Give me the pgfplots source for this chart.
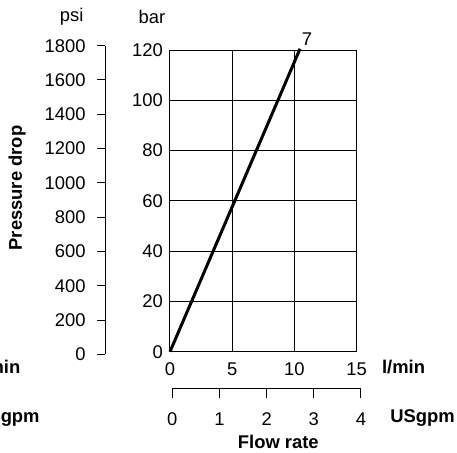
\documentclass[border=0pt]{standalone}
\usepackage{fontspec}
\setmainfont{Liberation Sans}
\usepackage{pgfplots}
\pgfplotsset{compat=1.18}
\newcommand\fs{\fontsize{9.2}{11}\selectfont}
\begin{document}
\begin{tikzpicture}[font=\fs]
\useasboundingbox (0,0) rectangle (228.5pt,226pt);
\begin{scope}
\clip (0,0) rectangle (228.5pt,226pt);
% main bar axis
\begin{axis}[at={(85pt,50.15pt)}, anchor=south west, scale only axis,
  width=93.35pt, height=150.85pt,
  xmin=0, xmax=15, ymin=0, ymax=120,
  xtick={0,5,10,15}, ytick={0,20,...,120},
  grid=major, major grid style={black, line width=0.5pt},
  axis line style={black, line width=0.5pt},
  major tick length=0pt, tick style={draw=none},
  /pgf/number format/assume math mode=true,
  ticklabel style={font=\fs},
  xticklabel style={yshift=-2pt},
  clip=false]
\addplot[black, line width=1.5pt] coordinates {(0,0) (10.45,120.5)};
\node[font=\fs] at (axis cs:11,124.4) {7};
\end{axis}
% psi axis
\begin{axis}[at={(52.65pt,48.85pt)}, anchor=south west, scale only axis,
  width=1pt, height=154.3pt,
  xmin=0, xmax=1, ymin=0, ymax=1800,
  ytick={0,200,...,1800},
  hide x axis, axis y line*=left, tick align=outside,
  major tick length=4pt,
  axis line style={black, line width=0.5pt}, tick style={black, line width=0.5pt},
  /pgf/number format/assume math mode=true,
  /pgf/number format/set thousands separator={},
  ticklabel style={font=\fs},
  yticklabel style={xshift=-2.3pt}]
\addplot[draw=none] coordinates {(0,0)};
\end{axis}
% USgpm axis
\begin{axis}[at={(86.15pt,31.85pt)}, anchor=south west, scale only axis,
  width=94.35pt, height=1pt,
  xmin=0, xmax=4, ymin=0, ymax=1,
  xtick={0,1,2,3,4},
  hide y axis, axis x line*=bottom, tick align=outside,
  major tick length=5pt,
  axis line style={black, line width=0.5pt}, tick style={black, line width=0.5pt},
  /pgf/number format/assume math mode=true,
  xticklabel style={font=\fs, yshift=-3.5pt}]
\addplot[draw=none] coordinates {(0,0)};
\end{axis}
\node at (35.85pt,217.5pt) {psi};
\node at (76pt,217.5pt) {bar};
\node[rotate=90, font=\fs\bfseries] at (8.5pt,132pt) {Pressure drop};
\node[anchor=west, font=\fs\bfseries, inner sep=0pt] at (190.85pt,42.65pt) {l/min};
\node[anchor=west, font=\fs\bfseries, inner sep=0pt] at (195pt,16.85pt) {USgpm};
\node[font=\fs\bfseries] at (139.15pt,5.15pt) {Flow rate};
\node[anchor=east, font=\fs\bfseries, inner sep=0pt] at (10.35pt,42.65pt) {l/min};
\node[anchor=east, font=\fs\bfseries, inner sep=0pt] at (20pt,16.85pt) {USgpm};
\end{scope}
\end{tikzpicture}
\end{document}
